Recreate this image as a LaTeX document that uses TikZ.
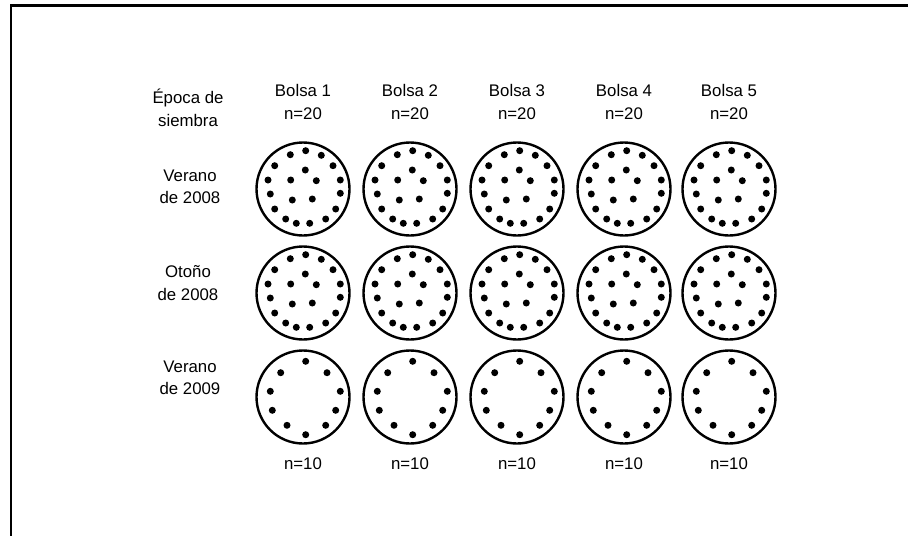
\documentclass[tikz,border=0pt]{standalone}
\usepackage{fontspec}
\setmainfont{Liberation Sans}
\begin{document}
\begin{tikzpicture}[x=1pt,y=-1pt,
  lbl/.style={font=\fontsize{16.8}{22.5}\selectfont, align=center, inner sep=0pt},
  bag/.style={draw, circle, line width=2.4pt, minimum size=93pt, inner sep=0pt},
  seed/.style={fill=black}]
\useasboundingbox (0,0) rectangle (908,536);
\draw[line width=2.6pt] (908,5.5) -- (11,5.5) -- (11,536);
% row labels
\node[lbl] (hdr) at (188,108) {Época de\\siembra};
\node[lbl] (r1) at (190,187) {Verano\\de 2008};
\node[lbl] (r2) at (188,283) {Otoño\\de 2008};
\node[lbl] (r3) at (190,378) {Verano\\de 2009};
% columns
\foreach \i/\x in {1/303,2/410,3/517,4/624,5/729}{
  \node[lbl] (b\i) at (\x,102) {Bolsa \i\\n=20};
  \node[lbl] (n\i) at (\x,464) {n=10};
  \node[bag] (ca\i) at (\x,189) {};
  \node[bag] (cb\i) at (\x,293) {};
  \node[bag] (cc\i) at (\x,397) {};
  \foreach \r in {ca,cb}{
    \foreach \dx/\dy in {2.7/-38.3,-12.7/-34.3,18.3/-33.7,-28.3/-23.3,30/-23.3,2.3/-19,
      -35/-9,-12.3/-9,13.3/-8.3,37.3/-9,-32.7/5,-10.7/11,9.3/10,37.3/4.3,
      -28.3/20,32.7/20,-17.3/30,-6.7/34.3,6.7/34.3,22.7/30}{
      \fill[seed] (\r\i) ++(\dx,\dy) circle[radius=3.5pt];
    }
  }
  \foreach \dx/\dy in {2.7/-35.7,-22.3/-24.3,24/-24.3,-32.7/-5.7,37.3/-5.7,
      -30.7/13.3,32.7/13.3,-16/28.3,22.7/28.3,2.7/37.7}{
    \fill[seed] (cc\i) ++(\dx,\dy) circle[radius=3.5pt];
  }
}
\end{tikzpicture}
\end{document}
